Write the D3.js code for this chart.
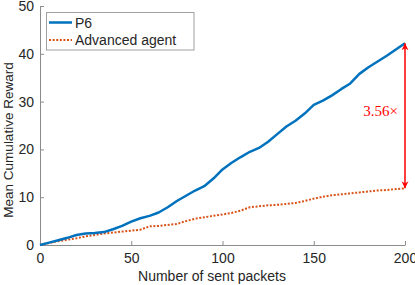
<!DOCTYPE html>
<html><head><meta charset="utf-8">
<script src="https://cdn.jsdelivr.net/npm/d3@7"></script>
<style>body{margin:0;background:#fff}svg{display:block}</style>
</head><body>
<svg id="c" width="415" height="285"></svg>
<script>
const xs = [0,5,10,15,20,25,30,35,40,45,50,55,60,65,70,75,80,85,90,95,100,105,110,115,120,125,130,135,140,145,150,155,160,165,170,175,180,185,190,195,200];
const p6 = [0,0.5,1.0,1.5,2.1,2.4,2.5,2.7,3.3,4.0,4.9,5.6,6.1,6.8,7.9,9.2,10.3,11.4,12.3,13.9,15.8,17.2,18.4,19.5,20.3,21.6,23.2,24.8,26.0,27.5,29.3,30.2,31.3,32.6,33.8,35.8,37.2,38.4,39.6,40.9,42.2];
const adv = [0,0.4,0.8,1.1,1.4,1.8,2.1,2.4,2.6,2.8,3.0,3.2,3.9,4.0,4.2,4.4,5.0,5.5,5.8,6.1,6.4,6.7,7.2,7.9,8.1,8.3,8.4,8.6,8.8,9.2,9.7,10.1,10.4,10.6,10.8,11.0,11.2,11.4,11.5,11.7,11.85];
const seriesNames = ["P6","Advanced agent"];
const xTicks = [0,50,100,150,200];
const yTicks = [0,10,20,30,40,50];
const ratioLabel = "3.56\u00d7";

const svg = d3.select("#c");
const x = d3.scaleLinear().domain([0,200]).range([40,405]);
const y = d3.scaleLinear().domain([0,50]).range([245,6]);
const axCol = "#8c8c8c", txtCol = "#262626";
const font = "Liberation Sans, Arial, Helvetica, sans-serif";

const xa = svg.append("g").attr("transform",`translate(0,${y(0)})`)
  .call(d3.axisBottom(x).tickValues(xTicks).tickSizeInner(-4).tickSizeOuter(0).tickPadding(8));
const ya = svg.append("g").attr("transform",`translate(${x(0)},0)`)
  .call(d3.axisLeft(y).tickValues(yTicks).tickSizeInner(-4).tickSizeOuter(0).tickPadding(6));
[xa,ya].forEach(a=>{
  a.select(".domain").attr("stroke",axCol);
  a.selectAll(".tick line").attr("stroke",axCol);
  a.selectAll(".tick text").attr("fill",txtCol).attr("font-size",14).attr("font-family",font);
});

svg.append("text").attr("x",212).attr("y",281).attr("text-anchor","middle")
  .attr("font-size",14).attr("font-family",font).attr("fill",txtCol).text("Number of sent packets");
svg.append("text").attr("transform",`translate(13,140) rotate(-90)`).attr("text-anchor","middle")
  .attr("font-size",13.5).attr("font-family",font).attr("fill",txtCol).text("Mean Cumulative Reward");

const line = d3.line().x((d,i)=>x(xs[i])).y(d=>y(d));
svg.append("path").datum(adv).attr("d",line).attr("fill","none").attr("stroke","#D95319")
  .attr("stroke-width",2).attr("stroke-dasharray","2,1.6");
svg.append("path").datum(p6).attr("d",line).attr("fill","none").attr("stroke","#0072BD")
  .attr("stroke-width",2.5).attr("stroke-linejoin","round");

// arrow
const defs = svg.append("defs");
defs.append("marker").attr("id","ah").attr("viewBox","0 0 10 10").attr("refX",10).attr("refY",5)
  .attr("markerWidth",7).attr("markerHeight",9).attr("markerUnits","userSpaceOnUse").attr("orient","auto-start-reverse")
  .append("path").attr("d","M0,0 L10,5 L0,10 L3,5 Z").attr("fill","#ff0000");
svg.append("line").attr("x1",x(200)).attr("x2",x(200)).attr("y1",y(adv[adv.length-1])).attr("y2",y(p6[p6.length-1]))
  .attr("stroke","#ff0000").attr("stroke-width",1.5)
  .attr("marker-start","url(#ah)").attr("marker-end","url(#ah)");
svg.append("text").attr("x",398).attr("y",116).attr("text-anchor","end")
  .attr("font-size",15).attr("font-family","Liberation Serif, Times New Roman, serif").attr("fill","#ff0000").text(ratioLabel);

// legend
const lg = svg.append("g");
lg.append("rect").attr("x",46.5).attr("y",12.5).attr("width",147.5).attr("height",37.5)
  .attr("fill","#fff").attr("stroke","#a0a0a0").attr("stroke-width",1);
const styles = [{c:"#0072BD",w:2.5,d:null},{c:"#D95319",w:2,d:"2,1.6"}];
seriesNames.forEach((n,i)=>{
  const yy = 22.5 + i*17.5;
  lg.append("line").attr("x1",49).attr("x2",72).attr("y1",yy).attr("y2",yy)
    .attr("stroke",styles[i].c).attr("stroke-width",styles[i].w).attr("stroke-dasharray",styles[i].d);
  lg.append("text").attr("x",75).attr("y",yy).attr("dy","0.36em").attr("font-size",14)
    .attr("font-family",font).attr("fill",txtCol).text(n);
});
</script>
</body></html>
